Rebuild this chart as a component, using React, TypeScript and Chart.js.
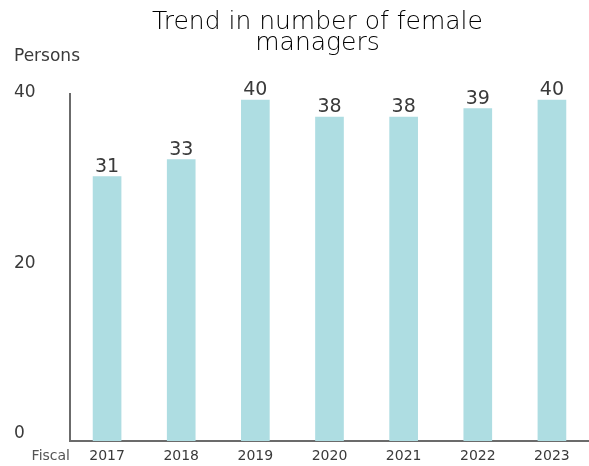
import React, { useEffect, useRef } from "react";
import { Chart, registerables } from "chart.js";

Chart.register(...registerables);

const categories = ["2017", "2018", "2019", "2020", "2021", "2022", "2023"];
const femaleManagers = [31, 33, 40, 38, 38, 39, 40];
const yTicks = [0, 20, 40];
const yMax = 40.7;
const titleLines = ["Trend in number of female", "managers"];
const yUnit = "Persons";
const xUnit = "Fiscal";

const FONT = "'DejaVu Sans', 'Liberation Sans', sans-serif";
const TEXT = "#3a3a3a";
const AXIS = "#6b6b6b";
const BAR = "#aedde2";

const annotate = {
  id: "annotate",
  afterDraw(chart: any) {
    const ctx = chart.ctx;
    const area = chart.chartArea;
    ctx.save();
    // title
    ctx.fillStyle = "#000000";
    ctx.font = `200 25px ${FONT}`;
    ctx.textAlign = "center";
    ctx.textBaseline = "alphabetic";
    const cx = (area.left + area.right) / 2 - 12;
    ctx.fillText(titleLines[0], cx, 29);
    ctx.fillText(titleLines[1], cx, 50);
    // y unit
    ctx.font = `17px ${FONT}`;
    ctx.fillStyle = TEXT;
    ctx.textAlign = "left";
    ctx.textBaseline = "middle";
    ctx.fillText(yUnit, 14, 57);
    // x unit
    ctx.font = `14px ${FONT}`;
    ctx.fillStyle = "#555555";
    ctx.textAlign = "right";
    ctx.fillText(xUnit, area.left, area.bottom + 15);
    // data labels
    const meta = chart.getDatasetMeta(0);
    ctx.font = `19px ${FONT}`;
    ctx.fillStyle = TEXT;
    ctx.textAlign = "center";
    ctx.textBaseline = "bottom";
    meta.data.forEach((bar: any, i: number) => {
      ctx.fillText(String(femaleManagers[i]), bar.x, bar.y);
    });
    ctx.restore();
  },
};

export default function App() {
  const ref = useRef<HTMLCanvasElement | null>(null);
  useEffect(() => {
    if (!ref.current) return;
    const chart = new Chart(ref.current, {
      type: "bar",
      data: {
        labels: categories,
        datasets: [
          {
            data: femaleManagers,
            backgroundColor: BAR,
            barThickness: 28,
          },
        ],
      },
      options: {
        responsive: false,
        animation: false,
        layout: { padding: { top: 94, left: 14, right: 0, bottom: 0 } },
        plugins: {
          legend: { display: false },
          tooltip: { enabled: false },
          title: { display: false },
        },
        scales: {
          x: {
            offset: true,
            grid: { display: false, drawTicks: false },
            border: { display: true, color: AXIS, width: 2 },
            ticks: {
              font: { family: FONT, size: 14 },
              color: TEXT,
              padding: 7,
              maxRotation: 0,
            },
            afterFit: (scale: any) => {
              scale.height = 25;
            },
          },
          y: {
            min: 0,
            max: yMax,
            grid: { display: false, drawTicks: false },
            border: { display: true, color: AXIS, width: 2 },
            afterBuildTicks: (scale: any) => {
              scale.ticks = yTicks.map((v) => ({ value: v }));
            },
            ticks: {
              font: { family: FONT, size: 17 },
              color: TEXT,
              crossAlign: "far",
              labelOffset: -7,
            },
            afterFit: (scale: any) => {
              scale.width = 56;
            },
          },
        },
      },
      plugins: [annotate],
    });
    return () => chart.destroy();
  }, []);
  return (
    <div style={{ position: "fixed", left: 0, top: 0, width: 589, height: 466, background: "#fff" }}>
      <canvas ref={ref} width={589} height={466} />
    </div>
  );
}
